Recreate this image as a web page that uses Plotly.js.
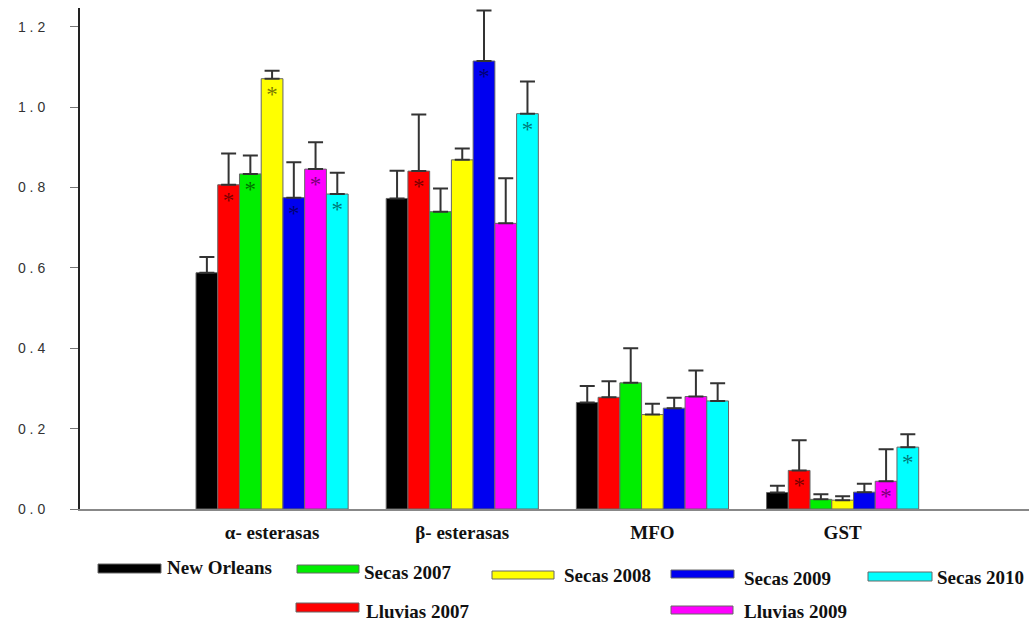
<!DOCTYPE html>
<html>
<head>
<meta charset="utf-8">
<script src="https://cdn.plot.ly/plotly-3.0.1.min.js"></script>
<style>html,body{margin:0;padding:0;background:#fff;}#chart{width:1029px;height:623px;}</style>
</head>
<body>
<div id="chart"></div>
<script>
// ---- data ----
const categories = ["α- esterasas", "β- esterasas", "MFO", "GST"];
const seriesNames = ["New Orleans", "Lluvias 2007", "Secas 2007", "Secas 2008", "Secas 2009", "Lluvias 2009", "Secas 2010"];
const newOrleans  = [0.588, 0.773, 0.265, 0.041];
const lluvias2007 = [0.807, 0.841, 0.278, 0.096];
const secas2007   = [0.834, 0.740, 0.314, 0.024];
const secas2008   = [1.071, 0.869, 0.235, 0.022];
const secas2009   = [0.775, 1.115, 0.251, 0.042];
const lluvias2009 = [0.846, 0.711, 0.280, 0.069];
const secas2010   = [0.784, 0.984, 0.269, 0.154];
// error (upper) values
const errNewOrleans  = [0.039, 0.069, 0.041, 0.017];
const errLluvias2007 = [0.078, 0.141, 0.040, 0.075];
const errSecas2007   = [0.046, 0.058, 0.086, 0.013];
const errSecas2008   = [0.020, 0.028, 0.027, 0.010];
const errSecas2009   = [0.088, 0.126, 0.026, 0.021];
const errLluvias2009 = [0.067, 0.112, 0.065, 0.080];
const errSecas2010   = [0.053, 0.080, 0.044, 0.032];
// significance flags (asterisk)
const sigNewOrleans  = [0, 0, 0, 0];
const sigLluvias2007 = [1, 1, 0, 1];
const sigSecas2007   = [1, 0, 0, 0];
const sigSecas2008   = [1, 0, 0, 0];
const sigSecas2009   = [1, 1, 0, 0];
const sigLluvias2009 = [1, 0, 0, 1];
const sigSecas2010   = [1, 1, 0, 1];
const yTickVals   = [0, 0.2, 0.4, 0.6, 0.8, 1.0, 1.2];
const yTickLabels = ["0 . 0", "0 . 2", "0 . 4", "0 . 6", "0 . 8", "1 . 0", "1 . 2"];

// ---- styling ----
const seriesValues = [newOrleans, lluvias2007, secas2007, secas2008, secas2009, lluvias2009, secas2010];
const seriesErrors = [errNewOrleans, errLluvias2007, errSecas2007, errSecas2008, errSecas2009, errLluvias2009, errSecas2010];
const seriesSig = [sigNewOrleans, sigLluvias2007, sigSecas2007, sigSecas2008, sigSecas2009, sigLluvias2009, sigSecas2010];
const colors = ["#000000", "#ff0000", "#00ee00", "#ffff00", "#0000f0", "#ff00ff", "#00ffff"];

const traces = seriesNames.map((name, i) => ({
  type: "bar",
  name: name,
  x: categories,
  y: seriesValues[i],
  text: seriesSig[i].map(s => s ? "*" : ""),
  textposition: "inside",
  insidetextanchor: "end",
  textangle: 0,
  insidetextfont: {family: "Liberation Serif", size: 23, color: "rgba(0,0,0,0.55)"},
  constraintext: "none",
  hoverinfo: "none",
  marker: {color: colors[i], line: {color: "#666666", width: 1}},
  error_y: {type: "data", symmetric: false, array: seriesErrors[i], arrayminus: seriesErrors[i].map(() => 0),
            color: "#333333", thickness: 2, width: 7.5}
}));

// custom legend layout (pixel positions)
const L = 80, R = 1029, T = 8, B = 509;
const px = x => (x - L) / (R - L);
const py = y => (B - y) / (B - T);
const legendPos = [
  // [swatch x0, swatch x1, swatch yTop, swatch yBottom, text x, text y]
  [98, 161, 564, 573, 165, 567],    // New Orleans
  [296, 359, 603, 612, 364, 612],   // Lluvias 2007
  [297, 359, 565, 573, 362, 572],   // Secas 2007
  [492, 554, 571, 579, 562, 575],   // Secas 2008
  [671, 734, 570, 578, 742, 578],   // Secas 2009
  [671, 733, 606, 614, 742, 612],   // Lluvias 2009
  [868, 932, 572, 581, 935, 577]    // Secas 2010
];
const shapes = legendPos.map((p, i) => ({
  type: "rect", xref: "paper", yref: "paper",
  x0: px(p[0]), x1: px(p[1]), y0: py(p[3]), y1: py(p[2]),
  fillcolor: colors[i], line: {color: "#666666", width: 1}
}));
const annotations = legendPos.map((p, i) => ({
  xref: "paper", yref: "paper", x: px(p[4]), y: py(p[5]),
  xanchor: "left", yanchor: "middle", showarrow: false,
  text: seriesNames[i],
  font: {family: "Liberation Serif", size: 19, color: "#111111", weight: "bold"}
}));

const layout = {
  width: 1029, height: 623,
  margin: {l: L, r: 1029 - R, t: T, b: 623 - B, pad: 0},
  paper_bgcolor: "#ffffff", plot_bgcolor: "#ffffff",
  showlegend: false,
  barmode: "group", bargap: 0.2, bargroupgap: 0,
  xaxis: {
    type: "category", range: [-1.01, 3.98], fixedrange: true,
    showline: true, linecolor: "#888888", linewidth: 2,
    ticks: "", ticklabelstandoff: 5, showgrid: false, zeroline: false,
    tickfont: {family: "Liberation Serif", size: 19, color: "#111111", weight: "bold"}
  },
  yaxis: {
    range: [0, 1.247], fixedrange: true,
    showline: true, linecolor: "#222222", linewidth: 2,
    ticks: "outside", ticklen: 8, tickcolor: "#777777", tickwidth: 1,
    tickvals: yTickVals, ticktext: yTickLabels,
    ticklabelstandoff: 22,
    showgrid: false, zeroline: false,
    tickfont: {family: "Liberation Sans", size: 14, color: "#333333"}
  },
  shapes: shapes,
  annotations: annotations
};

Plotly.newPlot("chart", traces, layout, {staticPlot: true});
</script>
</body>
</html>
